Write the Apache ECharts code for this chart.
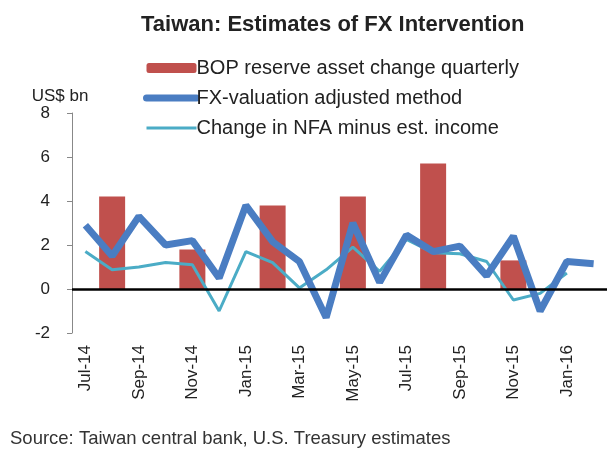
<!DOCTYPE html>
<html>
<head>
<meta charset="utf-8">
<script src="https://cdn.jsdelivr.net/npm/echarts@6/dist/echarts.min.js"></script>
<style>
  html, body { margin: 0; padding: 0; background: #fff; }
  #chart { width: 607px; height: 452px; }
</style>
</head>
<body>
<div id="chart"></div>
<script>
// months on the x axis
var months = ['Jul-14','Aug-14','Sep-14','Oct-14','Nov-14','Dec-14','Jan-15','Feb-15','Mar-15','Apr-15',
  'May-15','Jun-15','Jul-15','Aug-15','Sep-15','Oct-15','Nov-15','Dec-15','Jan-16','Feb-16'];
// quarterly bars, drawn at the middle month of each quarter
var bopReserve = [null, 4.2, null, null, 1.8, null, null, 3.8, null, null,
  4.2, null, null, 5.7, null, null, 1.3, null, null, null];
var fxAdjusted = [2.9, 1.5, 3.3, 2.0, 2.2, 0.5, 3.8, 2.15, 1.25, -1.3,
  3.0, 0.3, 2.45, 1.7, 1.95, 0.6, 2.4, -1.0, 1.25, 1.15];
var nfaMinusIncome = [1.7, 0.88, 1.0, 1.2, 1.1, -1.0, 1.7, 1.2, 0.05, 0.87,
  1.9, 0.8, 2.25, 1.65, 1.6, 1.25, -0.5, -0.2, 0.73, null];
var yTicks = { min: -2, max: 8, step: 2 };

var font = "'Liberation Sans Narrow', 'Liberation Sans', Arial, sans-serif";

var chart = echarts.init(document.getElementById('chart'));
chart.setOption({
  animation: false,
  color: ['#C0504D', '#4A7DC2', '#4BACC6'],
  title: {
    text: 'Taiwan: Estimates of FX Intervention',
    left: 136,
    top: 9,
    textStyle: { fontFamily: font, fontSize: 22, fontWeight: 'bold', color: '#222' }
  },
  legend: {
    orient: 'vertical',
    left: 143,
    top: 58,
    padding: 0,
    itemWidth: 50,
    itemHeight: 10,
    itemGap: 10,
    textStyle: { fontFamily: font, fontSize: 20, color: '#222', padding: [0, 0, 0, -5] },
    data: [
      { name: 'BOP reserve asset change quarterly' },
      { name: 'FX-valuation adjusted method', itemStyle: { opacity: 0 }, lineStyle: { width: 7, cap: 'round' } },
      { name: 'Change in NFA minus est. income', itemStyle: { opacity: 0 }, lineStyle: { width: 3 } }
    ]
  },
  grid: { left: 72, right: -13, top: 113, bottom: 119, containLabel: false },
  xAxis: {
    type: 'category',
    data: months,
    boundaryGap: true,
    axisLine: { show: false },
    axisTick: { show: false },
    axisLabel: {
      interval: 1,
      rotate: 90,
      margin: 12,
      fontFamily: font,
      fontSize: 17,
      color: '#222'
    }
  },
  yAxis: {
    type: 'value',
    min: yTicks.min,
    max: yTicks.max,
    interval: yTicks.step,
    name: 'US$ bn',
    nameLocation: 'end',
    nameGap: 5,
    nameTextStyle: { fontFamily: font, fontSize: 17, color: '#222', align: 'center', padding: [0, 24, 0, 0] },
    axisLine: { show: true, lineStyle: { color: '#888', width: 1 } },
    axisTick: { show: true, inside: false, length: 5, lineStyle: { color: '#888' } },
    splitLine: { show: false },
    axisLabel: { margin: 22, fontFamily: font, fontSize: 17, color: '#222' }
  },
  series: [
    {
      name: 'BOP reserve asset change quarterly',
      type: 'bar',
      data: bopReserve,
      barWidth: 26,
      itemStyle: { color: '#C0504D' },
      markLine: {
        silent: true,
        symbol: 'none',
        label: { show: false },
        lineStyle: { color: '#000', width: 2.5, type: 'solid' },
        data: [{ yAxis: 0 }]
      }
    },
    {
      name: 'FX-valuation adjusted method',
      type: 'line',
      data: fxAdjusted,
      symbol: 'none',
      z: 4,
      lineStyle: { color: '#4A7DC2', width: 7 },
      itemStyle: { color: '#4A7DC2' }
    },
    {
      name: 'Change in NFA minus est. income',
      type: 'line',
      data: nfaMinusIncome,
      symbol: 'none',
      z: 3,
      lineStyle: { color: '#4BACC6', width: 3 },
      itemStyle: { color: '#4BACC6' }
    }
  ],
  graphic: [{
    type: 'text',
    left: 10,
    top: 429,
    style: {
      text: 'Source: Taiwan central bank, U.S. Treasury estimates',
      font: '18.5px ' + font,
      fill: '#333'
    }
  }]
});
</script>
</body>
</html>
